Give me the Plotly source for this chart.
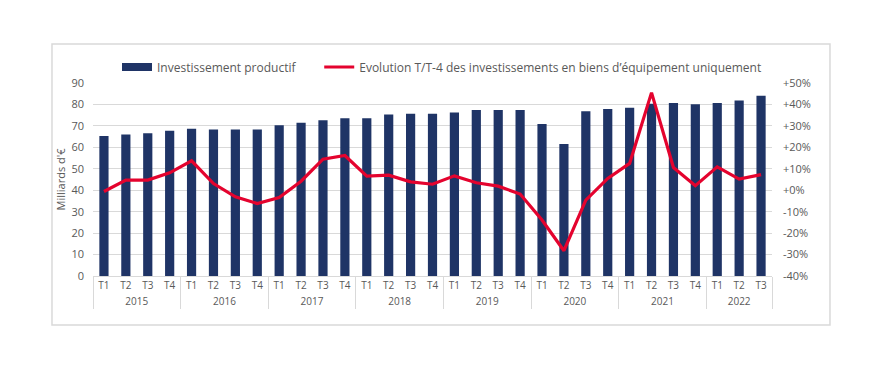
import plotly.graph_objects as go

years = ["2015"] * 4 + ["2016"] * 4 + ["2017"] * 4 + ["2018"] * 4 + ["2019"] * 4 + ["2020"] * 4 + ["2021"] * 4 + ["2022"] * 3
quarters = ["T1", "T2", "T3", "T4"] * 7 + ["T1", "T2", "T3"]

invest = [65.3, 66.0, 66.6, 67.7,
          68.7, 68.3, 68.3, 68.3,
          70.3, 71.5, 72.6, 73.6,
          73.6, 75.3, 75.7, 75.7,
          76.3, 77.4, 77.4, 77.4,
          70.9, 61.6, 76.8, 77.9,
          78.5, 80.3, 80.7, 80.1,
          80.7, 81.8, 84.0]

evolution = [-0.6, 4.7, 4.7, 8.1,
             13.7, 3.1, -3.1, -6.2,
             -3.4, 4.2, 14.5, 16.2,
             6.6, 7.0, 3.9, 2.8,
             6.7, 3.5, 1.9, -1.8,
             -13.9, -28.2, -4.6, 5.5,
             12.5, 45.5, 10.6, 2.1,
             10.9, 5.2, 7.3]

left_ticks = list(range(0, 100, 10))
right_ticks = list(range(-40, 60, 10))
right_labels = [("+" if v >= 0 else "") + f"{v}%" for v in right_ticks]

font = "Open Sans"
gray = "#595959"
navy = "#1F3466"
red = "#E4032E"

fig = go.Figure()
fig.add_trace(go.Bar(
    x=[years, quarters], y=invest, name="Investissement productif",
    marker=dict(color=navy, line=dict(width=0)), yaxis="y", showlegend=False,
))
# legend entry drawn as a wide rectangle, like the reference
fig.add_trace(go.Scatter(
    x=[None], y=[None], mode="lines", name="Investissement productif" + "\u00a0" * 6,
    line=dict(color=navy, width=8), yaxis="y", hoverinfo="skip",
))
fig.add_trace(go.Scatter(
    x=[years, quarters], y=evolution, mode="lines",
    name="Evolution T/T-4 des investissements en biens d\u2019équipement uniquement",
    line=dict(color=red, width=3.2), yaxis="y2",
))

fig.update_layout(
    width=880, height=370,
    margin=dict(l=85, r=116, t=75, b=102, autoexpand=False),
    paper_bgcolor="white", plot_bgcolor="white",
    font=dict(family=font, size=11, color=gray),
    bargap=0.58,
    showlegend=True,
    legend=dict(orientation="h", x=0.514, xanchor="center", y=1.083, yanchor="middle",
                font=dict(size=12, color=gray), bgcolor="rgba(0,0,0,0)",
                itemwidth=30, tracegroupgap=0),
    xaxis=dict(type="multicategory", showline=True, linecolor="#d9d9d9", linewidth=1,
               showdividers=True, dividercolor="#d9d9d9", dividerwidth=1,
               tickfont=dict(size=10, color=gray), ticks="", showgrid=False, automargin=False),
    yaxis=dict(range=[0, 90], tickvals=left_ticks, showgrid=True, gridcolor="#d9d9d9",
               zeroline=False, tickfont=dict(size=11, color=gray), automargin=False,
               ticklabelstandoff=8,
               title=dict(text="Milliards d'\u20ac", font=dict(size=11, color=gray), standoff=3)),
    yaxis2=dict(range=[-40, 50], overlaying="y", side="right", tickvals=right_ticks,
                ticktext=right_labels, showgrid=False, zeroline=False, automargin=False,
                ticklabelstandoff=10, tickfont=dict(size=11, color=gray)),
    shapes=[dict(type="rect", xref="paper", yref="paper",
                 x0=-0.0604, x1=1.0854, y0=-0.254, y1=1.202,
                 line=dict(color="#d9d9d9", width=1.5), fillcolor="rgba(0,0,0,0)", layer="below")],
)

fig.write_html("out.html")
